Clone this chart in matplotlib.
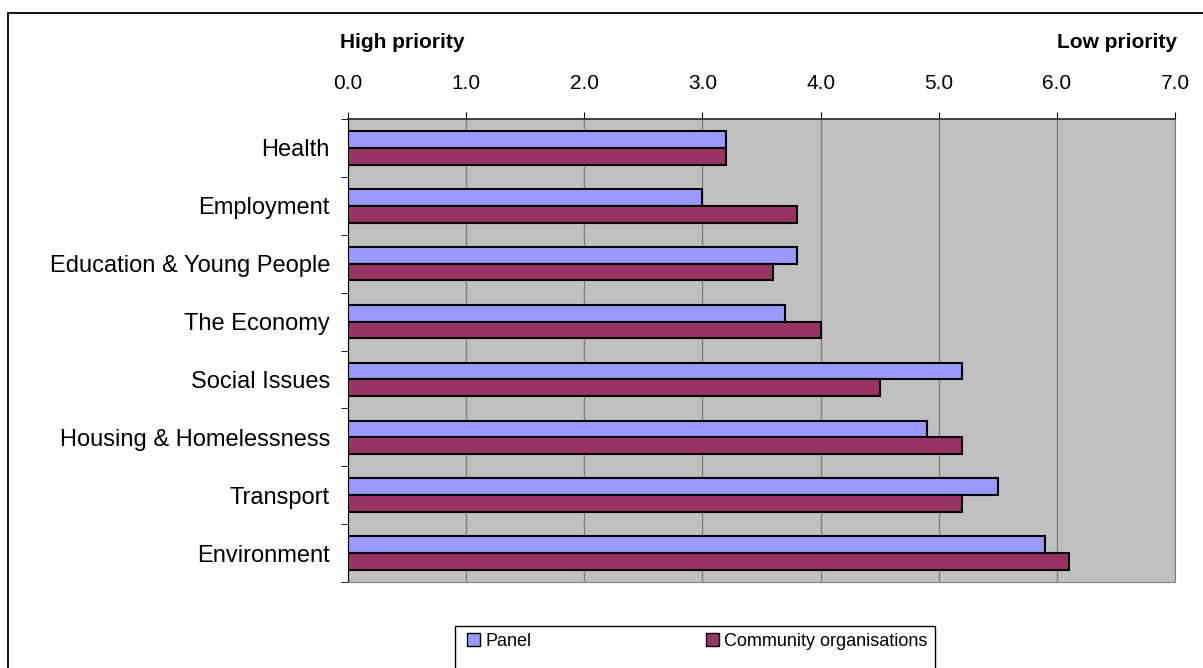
import numpy as np
import matplotlib.pyplot as plt
from matplotlib.patches import Rectangle

categories = ["Health", "Employment", "Education & Young People", "The Economy",
              "Social Issues", "Housing & Homelessness", "Transport", "Environment"]
panel = [3.2, 3.0, 3.8, 3.7, 5.2, 4.9, 5.5, 5.9]
community = [3.2, 3.8, 3.6, 4.0, 4.5, 5.2, 5.2, 6.1]
xticks = [0, 1, 2, 3, 4, 5, 6, 7]

plt.rcParams['font.family'] = ['Liberation Sans', 'DejaVu Sans']

W, H = 1203, 668
fig = plt.figure(figsize=(W / 100, H / 100), dpi=100)
ax = fig.add_axes([348 / W, 1 - 582 / H, (1175 - 348) / W, (582 - 119) / H])

y = np.arange(len(categories))
h = 0.29
b1 = ax.barh(y - h / 2, panel, height=h, color='#9999FF', edgecolor='black', linewidth=1.5,
             label='Panel', zorder=3)
b2 = ax.barh(y + h / 2, community, height=h, color='#993366', edgecolor='black', linewidth=1.5,
             label='Community organisations', zorder=3)

ax.set_facecolor('#C0C0C0')
ax.set_xlim(0, 7)
ax.set_ylim(len(categories) - 0.5, -0.5)
ax.set_xticks(xticks)
ax.set_xticklabels([f"{v:.1f}" for v in xticks], fontsize=15)
ax.xaxis.tick_top()
ax.tick_params(axis='x', length=5, pad=14, color='black')
ax.grid(axis='x', color='#808080', linewidth=1, zorder=0)

# category labels at centres, tick marks at boundaries
ax.set_yticks(y)
ax.set_yticklabels(categories, fontsize=17)
ax.tick_params(axis='y', which='major', length=0, pad=13)
ax.set_yticks(np.arange(len(categories) + 1) - 0.5, minor=True)
ax.tick_params(axis='y', which='minor', length=5, color='black')

ax.spines['right'].set_color('#808080')
ax.spines['bottom'].set_color('#808080')
ax.spines['top'].set_color('#333333')
ax.spines['top'].set_linewidth(1.3)
ax.spines['left'].set_color('black')

fig.text(340 / W, 1 - 48 / H, "High priority", fontsize=15, fontweight='bold',
         ha='left', va='baseline')
fig.text(1177 / W, 1 - 48 / H, "Low priority", fontsize=15, fontweight='bold',
         ha='right', va='baseline')

# legend box runs past the bottom edge
fig.patches.append(Rectangle((455 / W, -0.05), (935 - 455) / W, 0.05 + 1 - 626 / H,
                             transform=fig.transFigure, fill=True, facecolor='white',
                             edgecolor='black', linewidth=1))
for handle, lab, x0 in [(b1, 'Panel', 467), (b2, 'Community organisations', 706)]:
    leg = fig.legend([handle], [lab], loc='center left', bbox_to_anchor=(x0 / W, 1 - 641 / H),
                     fontsize=13, frameon=False, handlelength=0.7, handleheight=0.7,
                     handletextpad=0.3, borderpad=0, borderaxespad=0)
    for p in leg.get_patches():
        p.set_linewidth(1)

# chart frame, cut off at the right and bottom
fig.patches.append(Rectangle((8 / W, -0.05), 1.1, 0.05 + 1 - 13 / H, transform=fig.transFigure,
                             fill=False, edgecolor='black', linewidth=1.3))

fig.savefig('out.png', dpi=100)
